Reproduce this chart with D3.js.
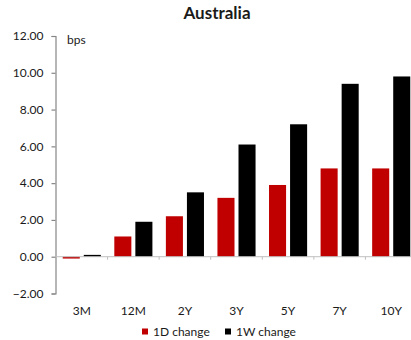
<!DOCTYPE html>
<html>
<head>
<meta charset="utf-8">
<script src="https://cdn.jsdelivr.net/npm/d3@7"></script>
<style>
  html, body { margin: 0; padding: 0; background: #fff; }
  svg { display: block; }
  text { font-family: Lato, "Open Sans", sans-serif; fill: #1a1a1a; }
</style>
</head>
<body>
<svg id="chart" width="411" height="340"></svg>
<script>
// Tenors and daily / weekly yield changes (bps)
const tenors = ["3M", "12M", "2Y", "3Y", "5Y", "7Y", "10Y"];
const seriesNames = ["1D change", "1W change"];
const change1D = [-0.1, 1.1, 2.2, 3.2, 3.9, 4.8, 4.8];
const change1W = [0.1, 1.9, 3.5, 6.1, 7.2, 9.4, 9.8];
const seriesColors = ["#C00000", "#000000"];
const yTicks = [-2, 0, 2, 4, 6, 8, 10, 12];

const rows = tenors.map((t, i) => ({ tenor: t, values: [change1D[i], change1W[i]] }));

const svg = d3.select("#chart");
const axisColor = "#868686";

const y = d3.scaleLinear().domain([-2, 12]).range([293.5, 36]);
const x0 = d3.scaleBand().domain(tenors).range([56, 417]).paddingInner(0).paddingOuter(0);
const x1 = d3.scaleBand().domain([0, 1]).range([0, x0.bandwidth()])
  .paddingInner(0.19).paddingOuter(0.32);

// Title
svg.append("text")
  .attr("x", 217).attr("y", 19)
  .attr("text-anchor", "middle")
  .style("font-weight", "bold").style("font-size", "17px")
  .text("Australia");

// Bars
const groups = svg.append("g").selectAll("g").data(rows).join("g")
  .attr("transform", d => `translate(${x0(d.tenor)},0)`);
groups.selectAll("rect").data(d => d.values.map((v, i) => ({ v, i }))).join("rect")
  .attr("x", d => x1(d.i))
  .attr("width", x1.bandwidth())
  .attr("y", d => y(Math.max(0, d.v)))
  .attr("height", d => Math.abs(y(d.v) - y(0)))
  .attr("fill", d => seriesColors[d.i]);

// Y axis
const yAxis = svg.append("g").attr("transform", "translate(55.5,0)")
  .call(d3.axisLeft(y).tickValues(yTicks).tickSize(4).tickPadding(8)
    .tickFormat(d3.format(".2f")));
yAxis.select(".domain").attr("stroke", axisColor).attr("stroke-width", 1.2);
yAxis.selectAll(".tick line").attr("stroke", axisColor).attr("stroke-width", 1.2);
yAxis.selectAll(".tick text").style("font-size", "12px").attr("fill", "#1a1a1a");

// Zero baseline with category separators
const xAxis = svg.append("g").attr("transform", `translate(0,${y(0)})`);
xAxis.append("line")
  .attr("x1", 55.5).attr("x2", 417)
  .attr("stroke", "#bfbfbf").attr("stroke-width", 1);
xAxis.selectAll("line.sep").data(tenors.slice(1)).join("line")
  .attr("class", "sep")
  .attr("x1", d => x0(d)).attr("x2", d => x0(d))
  .attr("y1", 0).attr("y2", 3)
  .attr("stroke", "#bfbfbf").attr("stroke-width", 1);

// Category labels along the bottom
svg.append("g").selectAll("text").data(tenors).join("text")
  .attr("x", d => x0(d) + x0.bandwidth() / 2)
  .attr("y", 314.5)
  .attr("text-anchor", "middle")
  .style("font-size", "12px")
  .text(d => d);

// Unit label
svg.append("text").attr("x", 67).attr("y", 44)
  .style("font-size", "12px").text("bps");

// Legend
const legendX = [142, 225];
const legend = svg.append("g").selectAll("g").data(seriesNames).join("g")
  .attr("transform", (d, i) => `translate(${legendX[i]},328.5)`);
legend.append("rect").attr("width", 6).attr("height", 6)
  .attr("fill", (d, i) => seriesColors[i]);
legend.append("text").attr("x", 11).attr("y", 7)
  .style("font-size", "12px").text(d => d);
</script>
</body>
</html>
